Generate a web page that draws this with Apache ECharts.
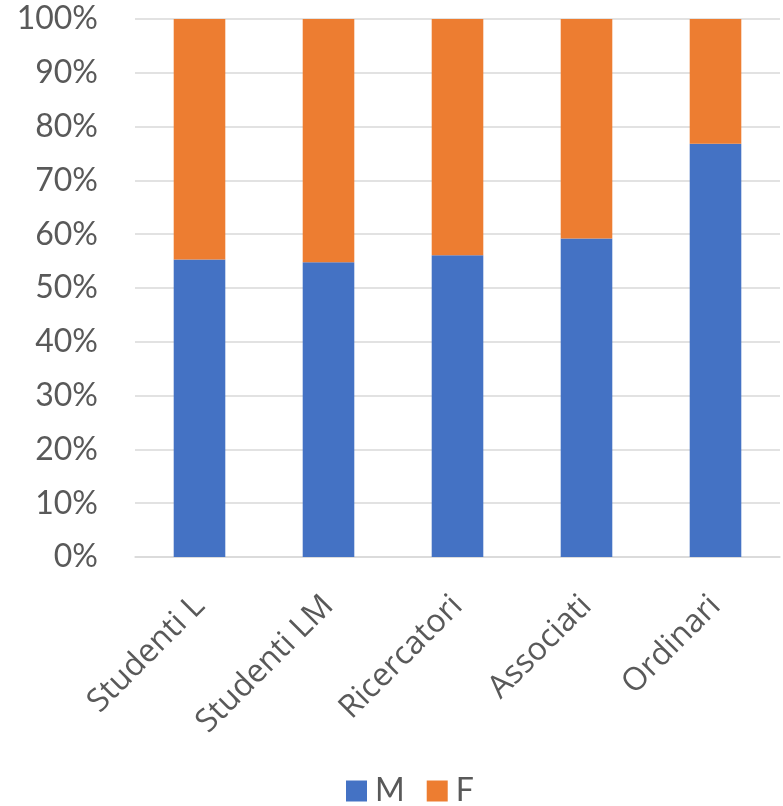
<!DOCTYPE html>
<html><head><meta charset="utf-8">
<script src="https://cdn.jsdelivr.net/npm/echarts@6/dist/echarts.min.js"></script>
<style>html,body{margin:0;padding:0;background:#fff}#c{width:783px;height:806px}</style>
</head><body><div id="c"></div>
<script>
const categories = ['Studenti L', 'Studenti LM', 'Ricercatori', 'Associati', 'Ordinari'];
const valuesM = [55.3, 54.8, 56.1, 59.2, 76.8];
const valuesF = [44.7, 45.2, 43.9, 40.8, 23.2];
const FONT = 'Lato';
const chart = echarts.init(document.getElementById('c'));
chart.setOption({
  animation: false,
  grid: { left: 135, right: 3, top: 19, bottom: 249, containLabel: false },
  legend: {
    top: 770, left: 341, itemWidth: 21, itemHeight: 21, itemGap: 22,
    icon: 'rect',
    textStyle: { fontFamily: FONT, fontSize: 32, color: '#595959', padding: [0, 0, 0, 3] },
    data: ['M', 'F']
  },
  xAxis: {
    type: 'category', data: categories,
    axisLine: { lineStyle: { color: '#d9d9d9', width: 1.5 } },
    axisTick: { show: false },
    axisLabel: { rotate: 45, interval: 0, margin: 44, fontFamily: 'Open Sans', fontSize: 32, color: '#595959' }
  },
  yAxis: {
    type: 'value', min: 0, max: 100, interval: 10,
    axisLine: { show: false }, axisTick: { show: false },
    splitLine: { lineStyle: { color: '#d9d9d9', width: 1.5 } },
    axisLabel: { formatter: '{value}%', margin: 37, fontFamily: FONT, fontSize: 32, color: '#595959' }
  },
  series: [
    { name: 'M', type: 'bar', stack: 's', data: valuesM, barWidth: '40%', itemStyle: { color: '#4472C4' } },
    { name: 'F', type: 'bar', stack: 's', data: valuesF, barWidth: '40%', itemStyle: { color: '#ED7D31' } }
  ]
});
</script></body></html>
